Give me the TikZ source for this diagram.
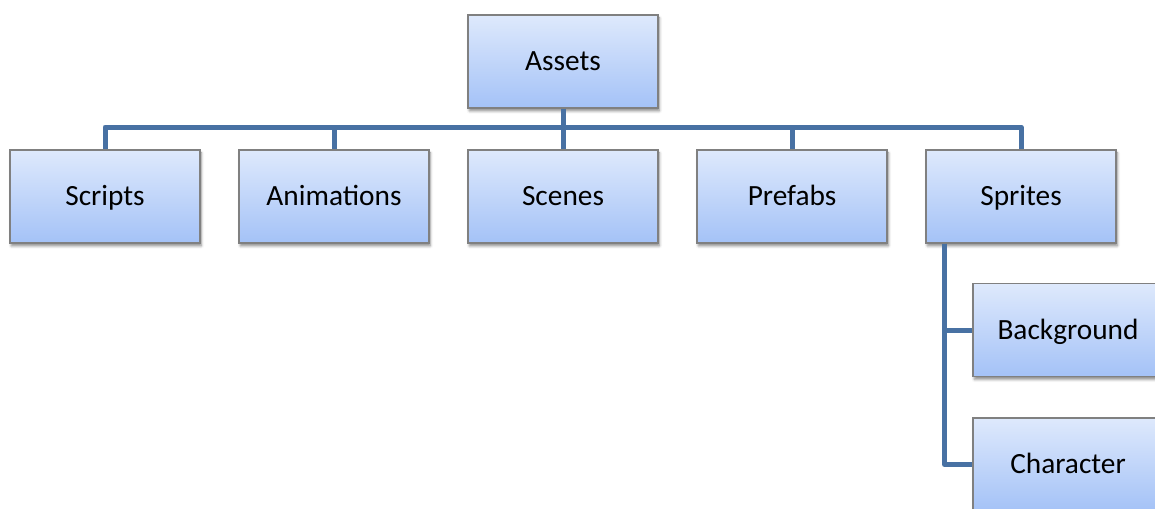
\documentclass[tikz,border=0pt]{standalone}
\usepackage{fontspec}
\setmainfont{Carlito}
\usepackage{tikz}
\usepackage{xcolor}
\usetikzlibrary{shadows.blur}

\definecolor{boxtop}{RGB}{222,233,252}
\definecolor{boxbottom}{RGB}{164,194,247}
\definecolor{boxline}{RGB}{128,128,128}
\definecolor{linkblue}{RGB}{72,113,163}

\begin{document}
\begin{tikzpicture}[x=0.75pt,y=0.75pt,yscale=-1,xscale=1,
  folder/.style={draw=boxline,line width=0.8pt,top color=boxtop,bottom color=boxbottom,
    minimum width=142.5pt,minimum height=69.75pt,inner sep=0pt,
    text height=14.2pt,text depth=0pt,
    font=\fontsize{22}{26}\selectfont,
    blur shadow={shadow xshift=1pt,shadow yshift=-2.2pt,shadow blur radius=2pt,shadow opacity=45}},
  link/.style={draw=linkblue,line width=3.75pt,line join=round}]
%set diagram size to the reference: 1155 x 508
\clip (0,0) rectangle (1155,508);
\useasboundingbox (0,0) rectangle (1155,508);

%Shape: Rectangle, root
\node [folder] (assets) at (563,61.5) {Assets};
%Shape: Rectangles, first level
\node [folder] (scripts) at (105,196.5) {Scripts};
\node [folder] (animations) at (334,196.5) {Animations};
\node [folder] (scenes) at (563,196.5) {Scenes};
\node [folder] (prefabs) at (792,196.5) {Prefabs};
\node [folder] (sprites) at (1021,196.5) {Sprites};
%Shape: Rectangles, under Sprites
\node [folder] (background) at (1068,330) {Background};
\node [folder] (character) at (1068,464.5) {Character};

%Straight Lines, root to first level
\coordinate (hub) at (563,127);
\draw [link] (assets.south) -- (hub);
\foreach \kid in {scripts,animations,scenes,prefabs,sprites}
  \draw [link] (hub) -| (\kid.north);
%Straight Lines, Sprites to its children
\coordinate (spine) at ([xshift=19pt*0.75]sprites.south west);
\draw [link] (spine) |- (background.west);
\draw [link] (spine) |- (character.west);
\end{tikzpicture}
\end{document}
